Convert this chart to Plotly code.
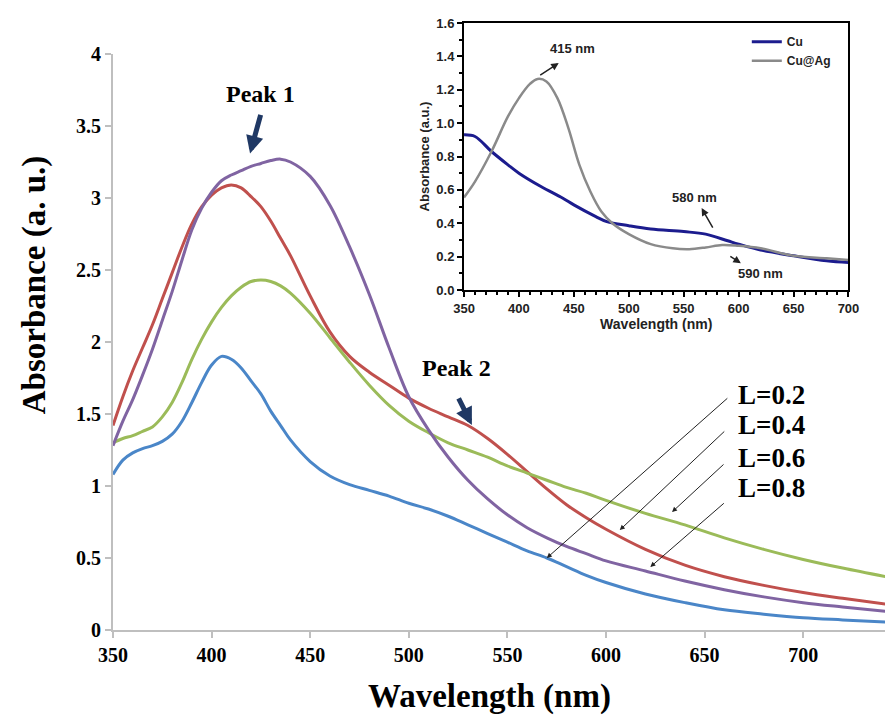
import plotly.graph_objects as go

# ---------------- main chart data ----------------
wl = [350, 355, 360, 365, 370, 375, 380, 385, 390, 395, 400, 405, 410, 415, 420, 425, 430, 435, 440,
      450, 460, 470, 480, 490, 500, 510, 520, 530, 540, 550, 560, 570, 580, 590,
      600, 620, 640, 660, 680, 700, 720, 742]

abs_l02 = [1.08, 1.18, 1.23, 1.26, 1.28, 1.31, 1.36, 1.45, 1.58, 1.72, 1.84, 1.90, 1.88, 1.82, 1.73, 1.64, 1.52, 1.42, 1.32,
           1.17, 1.07, 1.01, 0.97, 0.93, 0.88, 0.84, 0.79, 0.73, 0.67, 0.61, 0.55, 0.50, 0.44, 0.38,
           0.33, 0.25, 0.19, 0.14, 0.11, 0.085, 0.07, 0.055]
abs_l04 = [1.42, 1.62, 1.80, 1.96, 2.12, 2.30, 2.48, 2.66, 2.82, 2.94, 3.02, 3.07, 3.09, 3.07, 3.01, 2.94, 2.84, 2.72, 2.60,
           2.32, 2.07, 1.90, 1.79, 1.70, 1.61, 1.54, 1.48, 1.42, 1.33, 1.22, 1.10, 0.98, 0.87, 0.78,
           0.70, 0.56, 0.45, 0.37, 0.31, 0.26, 0.22, 0.18]
abs_l06 = [1.30, 1.33, 1.35, 1.38, 1.41, 1.48, 1.58, 1.72, 1.88, 2.02, 2.14, 2.24, 2.32, 2.38, 2.42, 2.43, 2.42, 2.39, 2.34,
           2.20, 2.03, 1.86, 1.70, 1.56, 1.45, 1.37, 1.30, 1.25, 1.20, 1.14, 1.09, 1.04, 0.99, 0.95,
           0.90, 0.81, 0.73, 0.64, 0.56, 0.49, 0.43, 0.37]
abs_l08 = [1.28, 1.45, 1.60, 1.77, 1.95, 2.15, 2.35, 2.57, 2.78, 2.93, 3.04, 3.12, 3.16, 3.19, 3.22, 3.24, 3.26, 3.27, 3.25,
           3.15, 2.95, 2.66, 2.33, 1.96, 1.62, 1.39, 1.20, 1.04, 0.91, 0.80, 0.71, 0.64, 0.58, 0.53,
           0.48, 0.41, 0.34, 0.28, 0.23, 0.19, 0.16, 0.13]

series_names = ["L=0.2", "L=0.4", "L=0.6", "L=0.8"]
series_colors = ["#4A86C8", "#C0504D", "#9BBB59", "#8064A2"]

main_xticks = [350, 400, 450, 500, 550, 600, 650, 700]
main_yticks = [0, 0.5, 1, 1.5, 2, 2.5, 3, 3.5, 4]

# ---------------- inset data ----------------
wl_cu = [350, 360, 375, 390, 400, 420, 440, 450, 470, 480, 500, 520, 550, 570, 590,
         600, 620, 650, 680, 700]
abs_cu = [0.93, 0.92, 0.83, 0.75, 0.70, 0.62, 0.55, 0.51, 0.44, 0.41, 0.385, 0.365, 0.35, 0.335, 0.295,
          0.275, 0.24, 0.205, 0.175, 0.165]
wl_cuag = [350, 360, 375, 390, 400, 410, 417, 425, 435, 445, 455, 465, 475, 485, 500,
           520, 540, 555, 570, 585, 600, 620, 650, 680, 700]
abs_cuag = [0.555, 0.65, 0.83, 1.04, 1.15, 1.235, 1.265, 1.25, 1.15, 0.97, 0.75, 0.59, 0.47, 0.40, 0.335,
            0.275, 0.25, 0.245, 0.255, 0.27, 0.265, 0.25, 0.205, 0.19, 0.18]

SERIF = "Liberation Serif"
SANS = "Liberation Sans"
GREY = "#BFBFBF"

fig = go.Figure()

for name, color, ys in zip(series_names, series_colors, [abs_l02, abs_l04, abs_l06, abs_l08]):
    fig.add_trace(go.Scatter(x=wl, y=ys, mode="lines", name=name, showlegend=False,
                             line=dict(color=color, width=3, shape="spline", smoothing=1.0),
                             xaxis="x", yaxis="y"))

fig.add_trace(go.Scatter(x=wl_cu, y=abs_cu, mode="lines", name="Cu",
                         line=dict(color="#1C1C8E", width=3, shape="spline", smoothing=1.0),
                         xaxis="x2", yaxis="y2"))
fig.add_trace(go.Scatter(x=wl_cuag, y=abs_cuag, mode="lines", name="Cu@Ag",
                         line=dict(color="#8A8A8A", width=2.5, shape="spline", smoothing=1.0),
                         xaxis="x2", yaxis="y2"))

annotations = []
# main axis titles
annotations.append(dict(text="<b>Absorbance (a. u.)</b>", textangle=-90, xref="paper", yref="paper",
                        x=0, y=0.568, xanchor="center", yanchor="middle", xshift=-79, showarrow=False,
                        font=dict(family=SERIF, size=33, color="black")))
annotations.append(dict(text="<b>Wavelength (nm)</b>", xref="paper", yref="paper",
                        x=0.488, y=-0.110, xanchor="center", yanchor="middle", showarrow=False,
                        font=dict(family=SERIF, size=33, color="black")))
# peak labels
NAVY = "#1F3864"
annotations.append(dict(text="<b>Peak 1</b>", x=425, y=3.72, xref="x", yref="y", showarrow=False,
                        font=dict(family=SERIF, size=24, color="black")))
annotations.append(dict(text="", x=419.5, y=3.31, xref="x", yref="y", ax=11, ay=-40, showarrow=True,
                        arrowhead=2, arrowsize=0.7, arrowwidth=5, arrowcolor=NAVY))
annotations.append(dict(text="<b>Peak 2</b>", x=524, y=1.82, xref="x", yref="y", showarrow=False,
                        font=dict(family=SERIF, size=24, color="black")))
annotations.append(dict(text="", x=532, y=1.424, xref="x", yref="y", ax=-14, ay=-28, showarrow=True,
                        arrowhead=2, arrowsize=0.7, arrowwidth=5, arrowcolor=NAVY))
# L labels and arrows
label_y = [1.632, 1.424, 1.194, 0.986]
heads = [(570, 0.50, 182, -161), (607, 0.694, 106, -100), (633.5, 0.819, 53, -49), (622.5, 0.4375, 75, -65)]
for name, ly, (hx, hy, ax, ay) in zip(series_names, label_y, heads):
    annotations.append(dict(text="<b>" + name + "</b>", x=666, y=ly, xref="x", yref="y",
                            xanchor="left", yanchor="middle", showarrow=False,
                            font=dict(family=SERIF, size=27, color="black")))
    annotations.append(dict(text="", x=hx, y=hy, xref="x", yref="y", ax=ax, ay=ay, showarrow=True,
                            arrowhead=2, arrowsize=1, arrowwidth=1, arrowcolor="#222222"))
# inset annotations
annotations.append(dict(text="<b>415 nm</b>", x=448.7, y=1.45, xref="x2", yref="y2", showarrow=False,
                        font=dict(family=SANS, size=13, color="#222")))
annotations.append(dict(text="", x=436.2, y=1.36, xref="x2", yref="y2", ax=-20, ay=13, showarrow=True,
                        arrowhead=2, arrowsize=1, arrowwidth=1.5, arrowcolor="#222"))
annotations.append(dict(text="<b>580 nm</b>", x=560, y=0.557, xref="x2", yref="y2", showarrow=False,
                        font=dict(family=SANS, size=13, color="#222")))
annotations.append(dict(text="", x=566.3, y=0.491, xref="x2", yref="y2", ax=12, ay=21, showarrow=True,
                        arrowhead=2, arrowsize=1, arrowwidth=1.5, arrowcolor="#222"))
annotations.append(dict(text="<b>590 nm</b>", x=620, y=0.10, xref="x2", yref="y2", showarrow=False,
                        font=dict(family=SANS, size=13, color="#222")))
annotations.append(dict(text="", x=602, y=0.16, xref="x2", yref="y2", ax=-12, ay=-8, showarrow=True,
                        arrowhead=2, arrowsize=1, arrowwidth=1.5, arrowcolor="#222"))

fig.update_layout(
    width=896, height=718,
    margin=dict(l=113, r=0, t=23, b=88),
    paper_bgcolor="white", plot_bgcolor="white",
    annotations=annotations,
    legend=dict(x=0.821, y=0.993, xanchor="left", yanchor="top", bgcolor="rgba(0,0,0,0)",
                font=dict(family=SANS, size=12, color="#222", weight="bold"),
                tracegroupgap=0, itemwidth=30),
    xaxis=dict(domain=[0, 1], range=[350, 741.5], tickvals=main_xticks, showgrid=False, zeroline=False,
               showline=True, linecolor=GREY, linewidth=2, ticks="outside", ticklen=6,
               tickcolor=GREY, tickwidth=2,
               tickfont=dict(family=SERIF, size=20, color="black", weight="bold")),
    yaxis=dict(domain=[0, 0.9489], range=[0, 4], tickvals=main_yticks, showgrid=False, zeroline=False,
               showline=True, linecolor=GREY, linewidth=2, ticks="outside", ticklen=6,
               tickcolor=GREY, tickwidth=2,
               tickfont=dict(family=SERIF, size=20, color="black", weight="bold")),
    xaxis2=dict(domain=[0.4547, 0.9527], anchor="y2", range=[350, 700], dtick=50, showgrid=False,
                zeroline=False, showline=True, mirror=True, linecolor="black", linewidth=2,
                ticks="outside", ticklen=5, tickwidth=2, tickcolor="black",
                minor=dict(dtick=10, ticks="outside", ticklen=3, tickwidth=1.5, tickcolor="black"),
                tickfont=dict(family=SANS, size=13, color="#222", weight="bold"),
                title=dict(text="Wavelength (nm)", standoff=4,
                           font=dict(family=SANS, size=14, color="#222", weight="bold"))),
    yaxis2=dict(domain=[0.5601, 1.0], anchor="x2", range=[0, 1.6], dtick=0.2, tickformat=".1f",
                showgrid=False, zeroline=False, showline=True, mirror=True, linecolor="black",
                linewidth=2, ticks="outside", ticklen=5, tickwidth=2, tickcolor="black",
                minor=dict(dtick=0.1, ticks="outside", ticklen=3, tickwidth=1.5, tickcolor="black"),
                tickfont=dict(family=SANS, size=13, color="#222", weight="bold"),
                title=dict(text="Absorbance (a.u.)", standoff=4,
                           font=dict(family=SANS, size=13, color="#222", weight="bold"))),
)

fig.write_html("out.html")
